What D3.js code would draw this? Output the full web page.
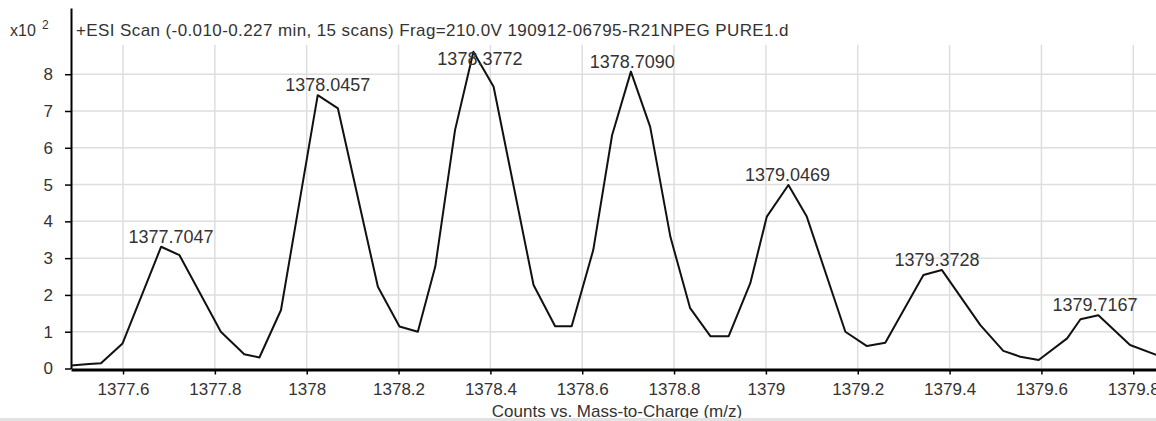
<!DOCTYPE html>
<html>
<head>
<meta charset="utf-8">
<script src="https://cdn.jsdelivr.net/npm/d3@7"></script>
<style>
  body { margin: 0; background: #fff; }
  svg { display: block; font-family: "Liberation Sans", Arial, sans-serif; }
</style>
</head>
<body>
<svg id="chart" width="1156" height="421"></svg>
<script>
// profile points (m/z, counts x10^2)
const mz = [1377.487, 1377.526, 1377.552, 1377.599, 1377.683, 1377.723, 1377.813, 1377.864, 1377.897, 1377.944,
  1378.024, 1378.068, 1378.155, 1378.202, 1378.242, 1378.280, 1378.323, 1378.363, 1378.407, 1378.494,
  1378.541, 1378.577, 1378.624, 1378.665, 1378.706, 1378.748, 1378.792, 1378.835, 1378.879, 1378.919,
  1378.966, 1379.002, 1379.049, 1379.089, 1379.173, 1379.220, 1379.260, 1379.343, 1379.383, 1379.467,
  1379.517, 1379.554, 1379.594, 1379.656, 1379.685, 1379.724, 1379.793, 1379.850];
const counts = [0.08, 0.12, 0.14, 0.68, 3.31, 3.08, 1.00, 0.39, 0.30, 1.59,
  7.43, 7.07, 2.22, 1.14, 1.00, 2.77, 6.48, 8.61, 7.66, 2.27,
  1.15, 1.15, 3.22, 6.34, 8.07, 6.57, 3.58, 1.64, 0.88, 0.88,
  2.32, 4.13, 4.99, 4.13, 1.00, 0.61, 0.70, 2.54, 2.68, 1.18,
  0.48, 0.32, 0.23, 0.82, 1.34, 1.45, 0.64, 0.37];

const peakMz = [1377.7047, 1378.0457, 1378.3772, 1378.7090, 1379.0469, 1379.3728, 1379.7167];
const peakHeight = [3.31, 7.43, 8.61, 8.07, 4.99, 2.68, 1.45];

const xTicks = [1377.6, 1377.8, 1378, 1378.2, 1378.4, 1378.6, 1378.8, 1379, 1379.2, 1379.4, 1379.6, 1379.8];
const yTicks = [0, 1, 2, 3, 4, 5, 6, 7, 8];

const titleText = "+ESI Scan (-0.010-0.227 min, 15 scans) Frag=210.0V 190912-06795-R21NPEG PURE1.d";
const xTitle = "Counts vs. Mass-to-Charge (m/z)";

const svg = d3.select("#chart");
const plotLeft = 71, plotRight = 1156, plotBottom = 368.5, plotTop = 8;

const x = d3.scaleLinear().domain([1377.4867, 1379.8495]).range([plotLeft, plotRight]);
const y = d3.scaleLinear().domain([0, 9.8]).range([plotBottom, plotTop]);

// grid
const grid = svg.append("g").attr("stroke", "#dedede").attr("stroke-width", 1.5);
grid.selectAll("line.h").data(yTicks.slice(1)).enter().append("line")
  .attr("x1", plotLeft).attr("x2", plotRight)
  .attr("y1", d => y(d)).attr("y2", d => y(d));
grid.selectAll("line.v").data(xTicks).enter().append("line")
  .attr("x1", d => x(d)).attr("x2", d => x(d))
  .attr("y1", y(8.8)).attr("y2", plotBottom);

// axes
const xAxis = svg.append("g")
  .attr("transform", `translate(0,${plotBottom + 1})`)
  .call(d3.axisBottom(x).tickValues(xTicks).tickFormat(d3.format("")).tickSize(5).tickPadding(8).tickSizeOuter(0));
xAxis.select(".domain").attr("stroke", "#000").attr("stroke-width", 3);
xAxis.selectAll("text").attr("font-size", 17).attr("fill", "#333").attr("font-family", null);

const yAxis = svg.append("g")
  .attr("transform", `translate(${plotLeft},0)`)
  .call(d3.axisLeft(y).tickValues(yTicks).tickSize(6).tickPadding(12).tickSizeOuter(0));
yAxis.select(".domain").attr("stroke", "#000").attr("stroke-width", 2);
yAxis.selectAll("text").attr("font-size", 17).attr("fill", "#333").attr("font-family", null);
svg.selectAll(".tick line").attr("stroke", "#000").attr("stroke-width", 1.5);

// spectrum
const pts = mz.map((m, i) => [m, counts[i]]);
svg.append("path")
  .datum(pts)
  .attr("fill", "none")
  .attr("stroke", "#111")
  .attr("stroke-width", 2)
  .attr("stroke-linejoin", "round")
  .attr("d", d3.line().x(d => x(d[0])).y(d => y(d[1])));

// peak labels
svg.append("g").selectAll("text")
  .data(peakMz).enter().append("text")
  .attr("x", d => x(d))
  .attr("y", (d, i) => Math.max(y(peakHeight[i]) - 4, 65))
  .attr("text-anchor", "middle")
  .attr("font-size", 18)
  .attr("fill", "#333")
  .text(d => d3.format(".4f")(d));

// header
svg.append("text").attr("x", 10).attr("y", 36).attr("font-size", 16).attr("fill", "#333").text("x10");
svg.append("text").attr("x", 42).attr("y", 29).attr("font-size", 12).attr("fill", "#333").text("2");
svg.append("text").attr("x", 76).attr("y", 36).attr("font-size", 17).attr("fill", "#333")
  .attr("letter-spacing", 0.4).text(titleText);

// x title
svg.append("text").attr("x", 617).attr("y", 417).attr("text-anchor", "middle")
  .attr("font-size", 17).attr("fill", "#333").text(xTitle);

svg.append("rect").attr("x", 0).attr("y", 418).attr("width", 1156).attr("height", 3).attr("fill", "#e2e2e2");
</script>
</body>
</html>
